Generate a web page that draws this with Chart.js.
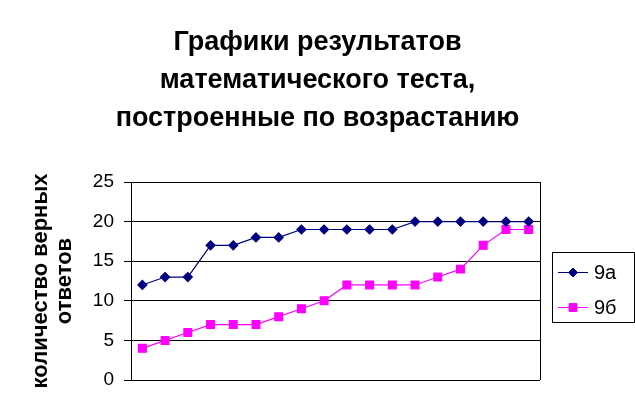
<!DOCTYPE html>
<html>
<head>
<meta charset="utf-8">
<script src="https://cdn.jsdelivr.net/npm/chart.js@4"></script>
<style>
  html, body { margin: 0; padding: 0; background: #fff; }
  #wrap { width: 635px; height: 419px; }
</style>
</head>
<body>
<div id="wrap"><canvas id="chart" width="635" height="419"></canvas></div>
<script>
// data
const students = ['1', '2', '3', '4', '5', '6', '7', '8', '9', '10', '11', '12', '13', '14', '15', '16', '17', '18'];
const class9a = [12, 13, 13, 17, 17, 18, 18, 19, 19, 19, 19, 19, 20, 20, 20, 20, 20, 20];
const class9b = [4, 5, 6, 7, 7, 7, 8, 9, 10, 12, 12, 12, 12, 13, 14, 17, 19, 19];
const seriesNames = ['9а', '9б'];
const yTicks = [0, 5, 10, 15, 20, 25];

const FONT = 'Liberation Sans, Arial, sans-serif';

// legend drawn with a box around it, like the original
const boxLegend = {
    id: 'boxLegend',
    afterDraw(chart) {
        const ctx = chart.ctx;
        const area = chart.chartArea;
        ctx.save();
        // right border of the plot
        ctx.strokeStyle = '#000';
        ctx.lineWidth = 1;
        ctx.beginPath();
        ctx.moveTo(Math.round(area.right) + 0.5, area.top);
        ctx.lineTo(Math.round(area.right) + 0.5, area.bottom);
        ctx.stroke();

        ctx.strokeRect(552.5, 252.5, 82, 70);
        chart.data.datasets.forEach((ds, i) => {
            const y = 272 + i * 35;
            ctx.strokeStyle = ds.borderColor;
            ctx.lineWidth = 1;
            ctx.beginPath();
            ctx.moveTo(558, y + 0.5);
            ctx.lineTo(588, y + 0.5);
            ctx.stroke();
            Chart.helpers.drawPoint(ctx, {
                pointStyle: ds.pointStyle,
                radius: ds.pointRadius,
                borderWidth: 1
            }, 573, y + 0.5);
            ctx.fillStyle = ds.pointBackgroundColor;
            ctx.strokeStyle = ds.pointBorderColor;
            ctx.fill();
            ctx.fillStyle = '#000';
            ctx.font = '20px ' + FONT;
            ctx.textBaseline = 'middle';
            ctx.textAlign = 'left';
            ctx.fillText(ds.label, 594, y + 1);
        });
        ctx.restore();
    }
};

function initChart() {
    const ctx = document.getElementById('chart').getContext('2d');
    new Chart(ctx, {
        type: 'line',
        data: {
            labels: students,
            datasets: [{
                label: seriesNames[0],
                data: class9a,
                borderColor: '#000080',
                backgroundColor: '#000080',
                pointBackgroundColor: '#000080',
                pointBorderColor: '#000080',
                pointStyle: 'rectRot',
                pointRadius: 4.5,
                borderWidth: 1.2,
                tension: 0
            }, {
                label: seriesNames[1],
                data: class9b,
                borderColor: '#FF00FF',
                backgroundColor: '#FF00FF',
                pointBackgroundColor: '#FF00FF',
                pointBorderColor: '#FF00FF',
                pointStyle: 'rect',
                pointRadius: 5.5,
                borderWidth: 1.2,
                tension: 0
            }]
        },
        options: {
            responsive: false,
            animation: false,
            layout: {
                padding: { left: 0, right: 0, top: 0, bottom: 39 }
            },
            plugins: {
                legend: { display: false },
                tooltip: { enabled: false },
                title: {
                    display: true,
                    text: ['Графики результатов', 'математического теста,', 'построенные по возрастанию'],
                    color: '#000',
                    font: { family: FONT, size: 27, weight: 'bold', lineHeight: 38 / 27 },
                    padding: { top: 24, bottom: 44 }
                }
            },
            scales: {
                x: {
                    display: false,
                    offset: true
                },
                y: {
                    min: 0,
                    max: 25,
                    afterBuildTicks(scale) {
                        scale.ticks = yTicks.map(v => ({ value: v }));
                    },
                    afterFit(scale) {
                        scale.width = 131;
                    },
                    border: { display: true, color: '#000', width: 1 },
                    grid: { color: '#000', lineWidth: 1, tickLength: 7, drawTicks: true },
                    ticks: {
                        color: '#000',
                        padding: 10,
                        font: { family: FONT, size: 19 }
                    },
                    title: {
                        display: true,
                        text: ['количество верных', 'ответов'],
                        color: '#000',
                        font: { family: FONT, size: 22, weight: 'bold', lineHeight: 24 / 22 },
                        padding: { top: 29, bottom: 0 }
                    }
                },
                // empty axis on the right keeps room for the legend box
                spacer: {
                    position: 'right',
                    display: true,
                    min: 0,
                    max: 25,
                    grid: { display: false, drawTicks: false },
                    border: { display: false },
                    ticks: { display: false },
                    afterFit(scale) {
                        scale.width = 95;
                    }
                }
            }
        },
        plugins: [boxLegend]
    });
}

window.onload = initChart;
</script>
</body>
</html>
